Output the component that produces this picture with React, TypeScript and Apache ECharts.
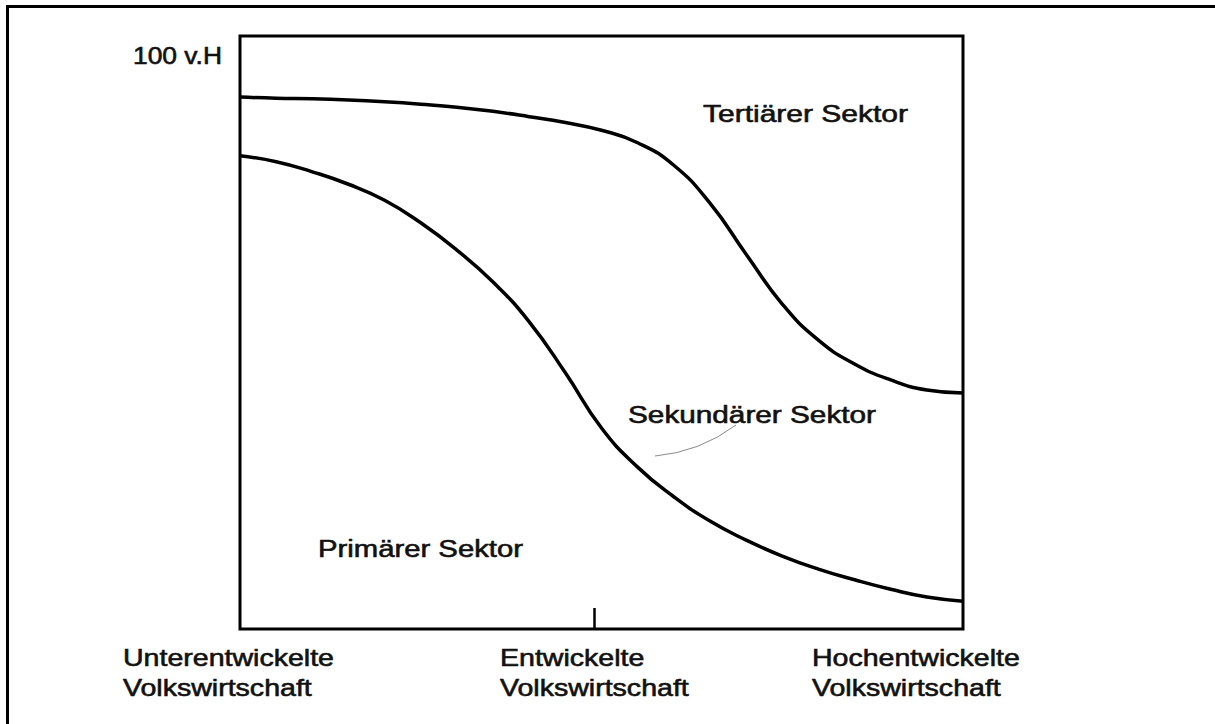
import React, { useEffect, useRef } from "react";
import * as echarts from "echarts";

// Position along the development axis (0 = underdeveloped, 100 = highly developed)
const devX = [0, 5, 10, 15, 20, 25, 30, 35, 40, 45, 50, 55, 60, 65, 70, 75, 80, 85, 90, 95, 100];
// Share (v.H) of primary + secondary sector (upper boundary curve)
const upperY = [89.7, 89.5, 89.4, 89.2, 88.9, 88.5, 88.0, 87.3, 86.4, 85.4, 84.1, 82.0, 78.2, 71.8, 63.2, 54.8, 48.7, 44.7, 42.0, 40.3, 39.8];
// Share (v.H) of primary sector (lower boundary curve)
const lowerY = [79.8, 78.8, 77.1, 75.0, 72.3, 68.5, 63.9, 58.5, 51.8, 43.2, 33.9, 27.3, 22.3, 18.2, 15.0, 12.3, 10.1, 8.3, 6.7, 5.4, 4.7];

const midTick = [49];
const yTopLabel = "100 v.H";
const sectorLabels = ["Tertiärer Sektor", "Sekundärer Sektor", "Primärer Sektor"];
const stageLabels = [
  ["Unterentwickelte", "Volkswirtschaft"],
  ["Entwickelte", "Volkswirtschaft"],
  ["Hochentwickelte", "Volkswirtschaft"],
];

const FONT = '24px "Liberation Sans", Arial, Helvetica, sans-serif';

function txt(text: string, x: number, y: number, sx = 1.22) {
  return {
    type: "text",
    x,
    y,
    scaleX: sx,
    silent: true,
    style: {
      text,
      font: FONT,
      fill: "#111",
      stroke: "#111",
      lineWidth: 0.6,
      textAlign: "left",
      textVerticalAlign: "middle",
    },
  };
}

export default function App() {
  const ref = useRef<HTMLDivElement>(null);
  useEffect(() => {
    if (!ref.current) return;
    const chart = echarts.init(ref.current, null, { renderer: "svg" });
    const stageX = [123, 500, 812];
    const graphic: any[] = [
      // outer frame (left and top edges)
      { type: "line", shape: { x1: 7.5, y1: 5, x2: 7.5, y2: 724 }, style: { stroke: "#000", lineWidth: 3 } },
      { type: "line", shape: { x1: 6, y1: 6.5, x2: 1215, y2: 6.5 }, style: { stroke: "#000", lineWidth: 3 } },
      txt(yTopLabel, 133, 55, 1.1),
      txt(sectorLabels[0], 703, 114, 1.25),
      txt(sectorLabels[1], 628, 415, 1.24),
      txt(sectorLabels[2], 318, 549, 1.22),
      {
        type: "bezierCurve",
        shape: { x1: 655, y1: 456, cpx1: 700, cpy1: 452, x2: 736, y2: 425 },
        style: { stroke: "#8a8a8a", lineWidth: 1, fill: null },
      },
    ];
    stageLabels.forEach((lines, i) => {
      graphic.push(txt(lines[0], stageX[i], 658, 1.19));
      graphic.push(txt(lines[1], stageX[i], 688, 1.19));
    });

    chart.setOption({
      animation: false,
      backgroundColor: "#fff",
      grid: {
        left: 240,
        top: 36,
        width: 723,
        height: 593,
        show: true,
        borderColor: "#000",
        borderWidth: 3,
        backgroundColor: "transparent",
      },
      xAxis: {
        type: "value",
        min: 0,
        max: 100,
        axisLine: { show: false },
        splitLine: { show: false },
        axisLabel: { show: false },
        axisTick: {
          show: true,
          inside: true,
          length: 21,
          customValues: midTick,
          lineStyle: { color: "#000", width: 2.5 },
        },
      },
      yAxis: {
        type: "value",
        min: 0,
        max: 100,
        axisLine: { show: false },
        splitLine: { show: false },
        axisLabel: { show: false },
        axisTick: { show: false },
      },
      series: [
        {
          type: "line",
          data: devX.map((x, i) => [x, upperY[i]]),
          smooth: 0.5,
          symbol: "none",
          lineStyle: { color: "#000", width: 3.5 },
        },
        {
          type: "line",
          data: devX.map((x, i) => [x, lowerY[i]]),
          smooth: 0.5,
          symbol: "none",
          lineStyle: { color: "#000", width: 3.5 },
        },
      ],
      graphic,
    });
    return () => chart.dispose();
  }, []);
  return (
    <div
      ref={ref}
      style={{ position: "absolute", left: 0, top: 0, width: 1215, height: 724, background: "#fff" }}
    />
  );
}
